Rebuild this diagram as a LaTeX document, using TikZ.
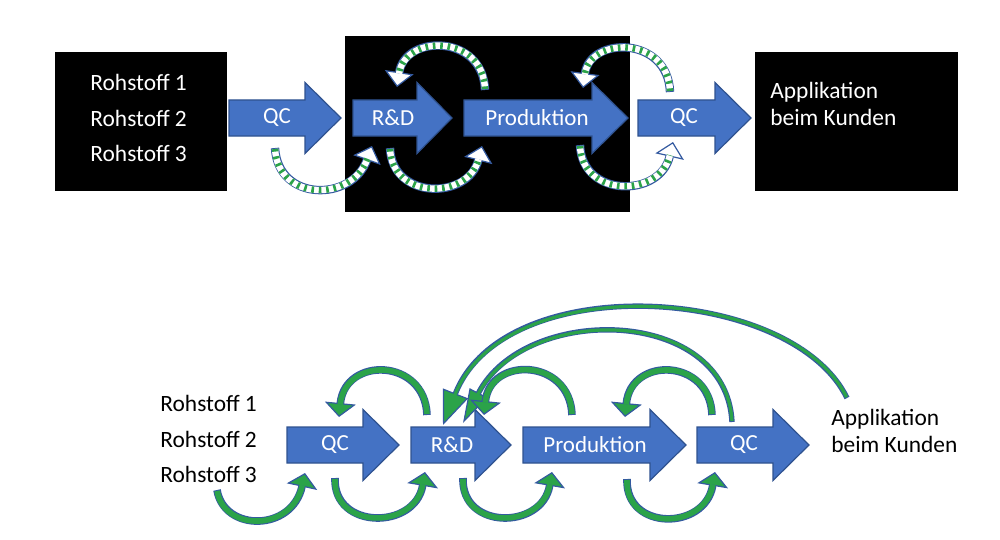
\documentclass[tikz,border=0pt]{standalone}
\usepackage{fontspec}
\setmainfont{Carlito}
\usetikzlibrary{arrows.meta}
\definecolor{blk}{RGB}{68,114,196}
\definecolor{blkline}{RGB}{47,82,143}
\definecolor{grn}{RGB}{43,163,73}
\definecolor{oline}{RGB}{52,90,160}
\tikzset{
  blockarrow/.style={fill=blk, draw=blkline, line width=0.6pt},
  arrowtext/.style={text=white, font=\fontsize{11.5}{13}\selectfont, inner sep=0pt},
  blackbox/.style={fill=black},
  rawtext/.style={anchor=west, align=left, inner sep=0pt, font=\fontsize{11.7}{17.75}\selectfont},
  kundentext/.style={anchor=west, align=left, inner sep=0pt, font=\fontsize{11.7}{13.5}\selectfont},
}
% block arrow: shaft x0..x1, tip at x2, centre line y
\newcommand\myblockarrow[4]{%
  \path[blockarrow] (#1,#4-18) -- (#2,#4-18) -- (#2,#4-35.5) -- (#3,#4) -- (#2,#4+35.5) -- (#2,#4+18) -- (#1,#4+18) -- cycle;}
% green loop with blue outline
\newcommand\greenloop[4]{%
  \draw[oline, line width=3.8pt, -{Triangle[length=7pt,width=15.5pt,fill=grn,line width=0.6pt]}] (#1) .. controls (#2) and (#3) .. (#4);
  \draw[grn, line width=2.8pt, shorten >=6.3pt, shorten <=0.5pt] (#1) .. controls (#2) and (#3) .. (#4);}
% long thin green arc
\newcommand\greenarc[5]{%
  \draw[oline, line width=2.7pt, -{Triangle[length=17pt,width=#5,fill=grn,line width=0.6pt]}] (#1) .. controls (#2) and (#3) .. (#4);
  \draw[grn, line width=1.6pt, shorten >=16pt, shorten <=0.5pt] (#1) .. controls (#2) and (#3) .. (#4);}
% striped loop
\newcommand\stripeloop[4]{%
  \draw[oline, line width=4.2pt, -{Triangle[length=7.5pt,width=14.5pt,fill=white,line width=0.6pt]}] (#1) .. controls (#2) and (#3) .. (#4);
  \draw[white, line width=3.2pt, shorten >=6.8pt, shorten <=0.5pt] (#1) .. controls (#2) and (#3) .. (#4);
  \draw[grn, line width=3.2pt, dash pattern=on 1.3pt off 2.4pt, shorten >=6.8pt, shorten <=0.5pt] (#1) .. controls (#2) and (#3) .. (#4);}
\begin{document}
\begin{tikzpicture}[x=0.5pt, y=-0.5pt]
\useasboundingbox (0,0) rectangle (1000,540);
% ---------------- top diagram ----------------
\path[blackbox] (55,52) rectangle (227,191);
\path[blackbox] (345,36) rectangle (630,212);
\path[blackbox] (755,52) rectangle (958,191);
\myblockarrow{229}{305}{341}{118}
\myblockarrow{353}{417}{452}{118}
\myblockarrow{464}{592}{628}{118}
\myblockarrow{638}{715}{751}{118}
\node[arrowtext] (tqc1) at (277,118) {QC};
\node[arrowtext] (trd) at (393,118) {R\&D};
\node[arrowtext] (tprod) at (537,118) {Produktion};
\node[arrowtext] (tqc2) at (684,118) {QC};
\node[rawtext, text=white] (traw) at (90,118) {Rohstoff 1\\Rohstoff 2\\Rohstoff 3};
\node[kundentext, text=white] (tkunde) at (770,104) {Applikation\\beim Kunden};
\coordinate (ta1) at (275,148); \coordinate (ta2) at (372,146);
\coordinate (tb1) at (390,148); \coordinate (tb2) at (482,146);
\coordinate (tc1) at (485,90);  \coordinate (tc2) at (397,87);
\coordinate (td1) at (670,92);  \coordinate (td2) at (583,88);
\coordinate (te1) at (580,145); \coordinate (te2) at (673,142);
\stripeloop{ta1}{278,202}{352,202}{ta2}
\stripeloop{tb1}{392,200}{468,200}{tb2}
\stripeloop{tc1}{483,34}{405,34}{tc2}
\stripeloop{td1}{668,36}{590,36}{td2}
\stripeloop{te1}{582,198}{660,198}{te2}
% ---------------- bottom diagram ----------------
\myblockarrow{287}{363}{399}{445}
\myblockarrow{411}{475}{511}{445}
\myblockarrow{523}{650}{686}{445}
\myblockarrow{697}{773}{809}{445}
\node[arrowtext] (bqc1) at (335,445) {QC};
\node[arrowtext] (brd) at (452,445) {R\&D};
\node[arrowtext] (bprod) at (595,445) {Produktion};
\node[arrowtext] (bqc2) at (744,445) {QC};
\node[rawtext] (braw) at (160,439) {Rohstoff 1\\Rohstoff 2\\Rohstoff 3};
\node[kundentext] (bkunde) at (831,431) {Applikation\\beim Kunden};
% long arcs
\coordinate (la1) at (847,398); \coordinate (la2) at (443,425);
\coordinate (lb1) at (732,422); \coordinate (lb2) at (463,423);
\greenarc{la1}{792,285}{505,268}{la2}{13.5pt}
\greenarc{lb1}{726,306}{525,303}{lb2}{10pt}
% lower loops
\coordinate (ba1) at (217,490); \coordinate (ba2) at (305,473);
\coordinate (bb1) at (335,478); \coordinate (bb2) at (425,472);
\coordinate (bc1) at (463,478); \coordinate (bc2) at (552,472);
\coordinate (bd1) at (627,479); \coordinate (bd2) at (715,472);
\greenloop{ba1}{224,532}{292,532}{ba2}
\greenloop{bb1}{333,530}{415,530}{bb2}
\greenloop{bc1}{461,530}{542,530}{bc2}
\greenloop{bd1}{625,531}{705,531}{bd2}
% upper loops
\coordinate (ua1) at (427,415); \coordinate (ua2) at (339,417);
\coordinate (ub1) at (572,415); \coordinate (ub2) at (484,415);
\coordinate (uc1) at (712,415); \coordinate (uc2) at (625,417);
\greenloop{ua1}{425,358}{345,356}{ua2}
\greenloop{ub1}{570,358}{490,356}{ub2}
\greenloop{uc1}{710,358}{631,356}{uc2}
\end{tikzpicture}
\end{document}
